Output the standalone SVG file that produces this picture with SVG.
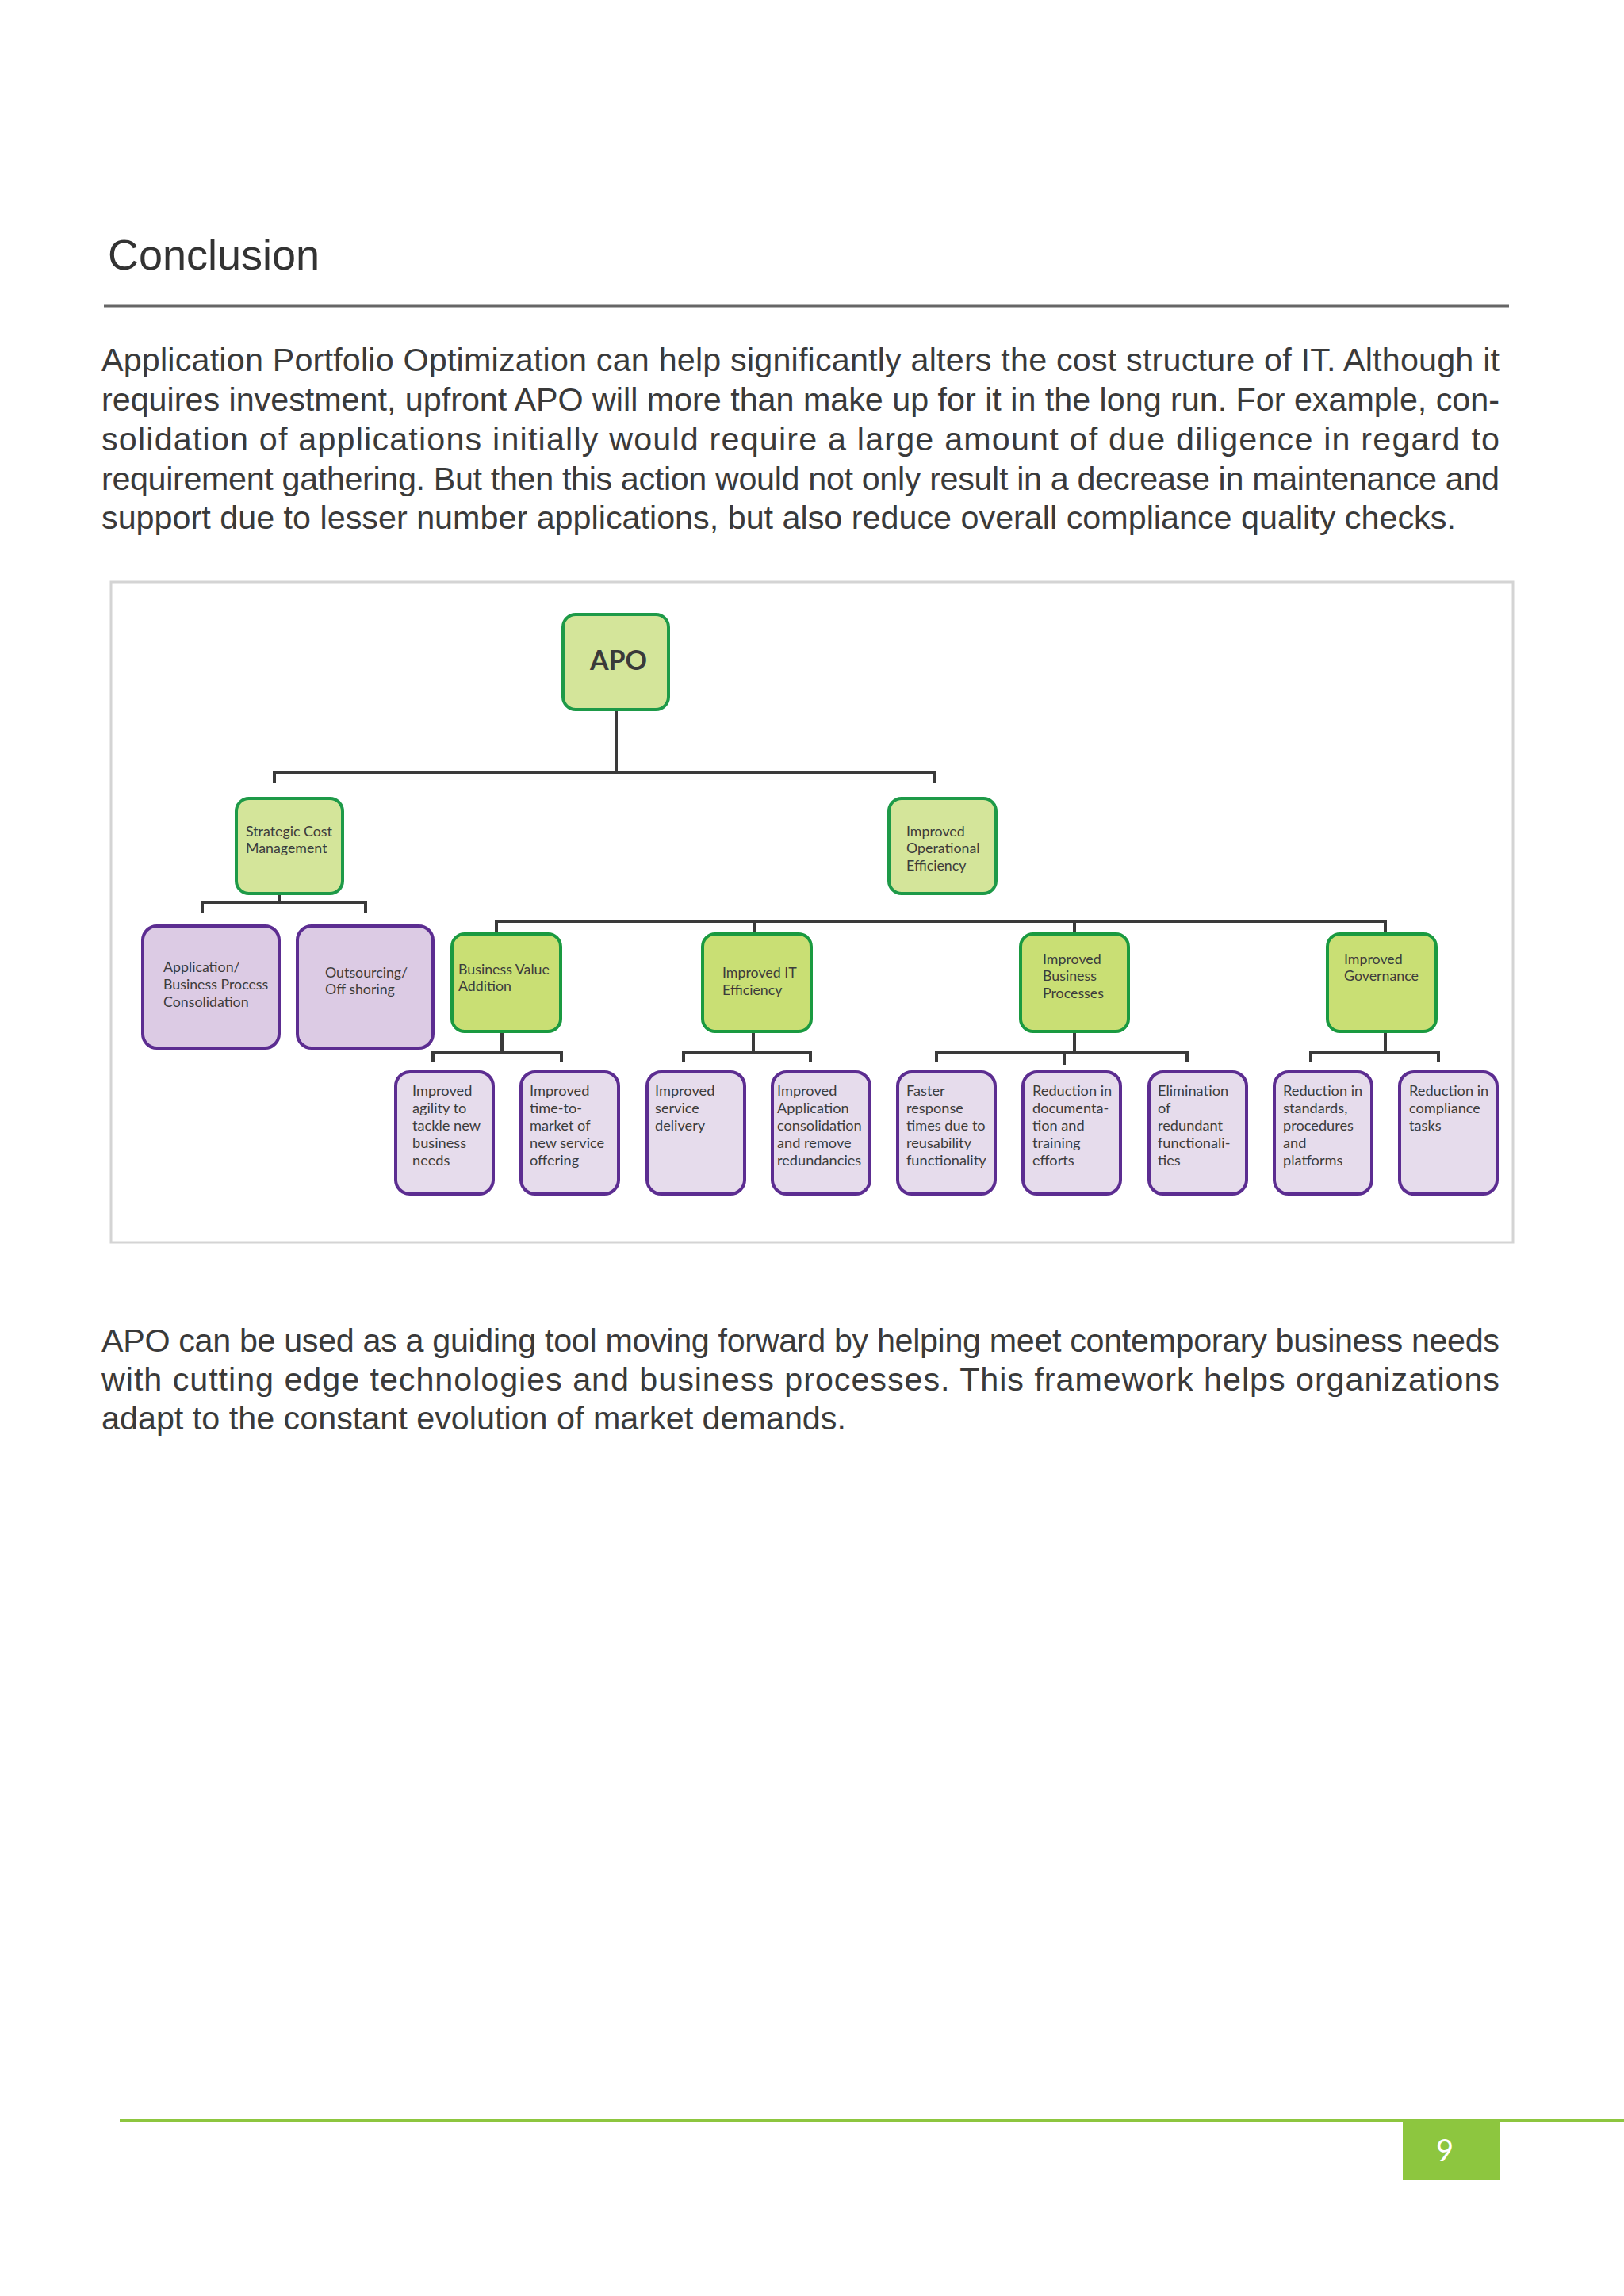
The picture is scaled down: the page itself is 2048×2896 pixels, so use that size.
<svg xmlns="http://www.w3.org/2000/svg" width="2048" height="2896" viewBox="0 0 2048 2896">
<style>
.body{font-family:"Liberation Sans",Arial,sans-serif;font-size:41.3px;fill:#3a3a3a}
.title{font-family:"Liberation Sans",Arial,sans-serif;font-size:54px;fill:#333}
.lbl{font-family:Lato,"Open Sans",sans-serif;font-size:17.8px;fill:#3c3c3c}
.leaf{font-family:Lato,"Open Sans",sans-serif;font-size:18.2px;fill:#3c3c3c}
.g1{fill:#d4e59a;stroke:#1e9a48;stroke-width:4}
.g2{fill:#c9df74;stroke:#1a9a40;stroke-width:4}
.p1{fill:#dccbe4;stroke:#5c2d91;stroke-width:4}
.p2{fill:#e6dcec;stroke:#5c2d91;stroke-width:4}
.conn{fill:none;stroke:#3a3a3a;stroke-width:4}
</style>
<rect x="0" y="0" width="2048" height="2896" fill="#ffffff"/>

<text class="title" x="136" y="340">Conclusion</text>
<line x1="131" y1="386" x2="1903" y2="386" stroke="#666" stroke-width="3"/>

<g id="para1">
<text class="body" x="128" y="468" textLength="1763" lengthAdjust="spacing">Application Portfolio Optimization can help significantly alters the cost structure of IT. Although it</text>
<text class="body" x="128" y="518" textLength="1763" lengthAdjust="spacing">requires investment, upfront APO will more than make up for it in the long run. For example, con-</text>
<text class="body" x="128" y="568" textLength="1763" lengthAdjust="spacing">solidation of applications initially would require a large amount of due diligence in regard to</text>
<text class="body" x="128" y="618" textLength="1763" lengthAdjust="spacing">requirement gathering. But then this action would not only result in a decrease in maintenance and</text>
<text class="body" x="128" y="667">support due to lesser number applications, but also reduce overall compliance quality checks.</text>
</g>

<rect id="frame" x="140" y="734" width="1768" height="833" fill="#ffffff" stroke="#d4d4d4" stroke-width="3"/>

<g id="connectors">
<path class="conn" d="M777 895 V974 M346 988 V974 H1178 V988"/>
<path class="conn" d="M352 1127 V1138 M255 1151 V1138 H461 V1151"/>
<path class="conn" d="M626 1176 V1162 H1747 V1176 M952 1162 V1178 M1355 1162 V1178"/>
<path class="conn" d="M633 1301 V1328 M546 1340 V1328 H708 V1340"/>
<path class="conn" d="M950 1301 V1328 M862 1340 V1328 H1022 V1340"/>
<path class="conn" d="M1355 1301 V1328 M1181 1340 V1328 H1497 V1340 M1342 1328 V1343"/>
<path class="conn" d="M1747 1301 V1328 M1653 1340 V1328 H1814 V1340"/>
</g>

<g id="apo">
<rect class="g1" x="710" y="775" width="133" height="120" rx="16"/>
<text x="780" y="845" text-anchor="middle" font-family="Lato,'Open Sans',sans-serif" font-weight="bold" font-size="34" fill="#3a3a3a">APO</text>
</g>

<g id="scm">
<rect class="g1" x="298" y="1007" width="134" height="120" rx="16"/>
<text class="lbl" x="310" y="1055">Strategic Cost</text>
<text class="lbl" x="310" y="1076">Management</text>
</g>

<g id="ioe">
<rect class="g1" x="1121" y="1007" width="135" height="120" rx="16"/>
<text class="lbl" x="1143" y="1055">Improved</text>
<text class="lbl" x="1143" y="1076">Operational</text>
<text class="lbl" x="1143" y="1098">Efficiency</text>
</g>

<g id="abpc">
<rect class="p1" x="180" y="1168" width="172" height="154" rx="18"/>
<text class="lbl" x="206" y="1226">Application/</text>
<text class="lbl" x="206" y="1248">Business Process</text>
<text class="lbl" x="206" y="1270">Consolidation</text>
</g>

<g id="outsourcing">
<rect class="p1" x="375" y="1168" width="171" height="154" rx="18"/>
<text class="lbl" x="410" y="1233">Outsourcing/</text>
<text class="lbl" x="410" y="1254">Off shoring</text>
</g>

<g id="bva">
<rect class="g2" x="570" y="1178" width="137" height="123" rx="16"/>
<text class="lbl" x="578" y="1229">Business Value</text>
<text class="lbl" x="578" y="1250">Addition</text>
</g>

<g id="ite">
<rect class="g2" x="886" y="1178" width="137" height="123" rx="16"/>
<text class="lbl" x="911" y="1233">Improved IT</text>
<text class="lbl" x="911" y="1255">Efficiency</text>
</g>

<g id="ibp">
<rect class="g2" x="1287" y="1178" width="136" height="123" rx="16"/>
<text class="lbl" x="1315" y="1216">Improved</text>
<text class="lbl" x="1315" y="1237">Business</text>
<text class="lbl" x="1315" y="1259">Processes</text>
</g>

<g id="igov">
<rect class="g2" x="1674" y="1178" width="137" height="123" rx="16"/>
<text class="lbl" x="1695" y="1216">Improved</text>
<text class="lbl" x="1695" y="1237">Governance</text>
</g>

<g id="leaf1">
<rect class="p2" x="499" y="1352" width="123" height="154" rx="18"/>
<text class="leaf" x="520" y="1382">Improved</text>
<text class="leaf" x="520" y="1404">agility to</text>
<text class="leaf" x="520" y="1426">tackle new</text>
<text class="leaf" x="520" y="1448">business</text>
<text class="leaf" x="520" y="1470">needs</text>
</g>

<g id="leaf2">
<rect class="p2" x="657" y="1352" width="123" height="154" rx="18"/>
<text class="leaf" x="668" y="1382">Improved</text>
<text class="leaf" x="668" y="1404">time-to-</text>
<text class="leaf" x="668" y="1426">market of</text>
<text class="leaf" x="668" y="1448">new service</text>
<text class="leaf" x="668" y="1470">offering</text>
</g>

<g id="leaf3">
<rect class="p2" x="816" y="1352" width="123" height="154" rx="18"/>
<text class="leaf" x="826" y="1382">Improved</text>
<text class="leaf" x="826" y="1404">service</text>
<text class="leaf" x="826" y="1426">delivery</text>
</g>

<g id="leaf4">
<rect class="p2" x="974" y="1352" width="123" height="154" rx="18"/>
<text class="leaf" x="980" y="1382">Improved</text>
<text class="leaf" x="980" y="1404">Application</text>
<text class="leaf" x="980" y="1426">consolidation</text>
<text class="leaf" x="980" y="1448">and remove</text>
<text class="leaf" x="980" y="1470">redundancies</text>
</g>

<g id="leaf5">
<rect class="p2" x="1132" y="1352" width="123" height="154" rx="18"/>
<text class="leaf" x="1143" y="1382">Faster</text>
<text class="leaf" x="1143" y="1404">response</text>
<text class="leaf" x="1143" y="1426">times due to</text>
<text class="leaf" x="1143" y="1448">reusability</text>
<text class="leaf" x="1143" y="1470">functionality</text>
</g>

<g id="leaf6">
<rect class="p2" x="1290" y="1352" width="123" height="154" rx="18"/>
<text class="leaf" x="1302" y="1382">Reduction in</text>
<text class="leaf" x="1302" y="1404">documenta-</text>
<text class="leaf" x="1302" y="1426">tion and</text>
<text class="leaf" x="1302" y="1448">training</text>
<text class="leaf" x="1302" y="1470">efforts</text>
</g>

<g id="leaf7">
<rect class="p2" x="1449" y="1352" width="123" height="154" rx="18"/>
<text class="leaf" x="1460" y="1382">Elimination</text>
<text class="leaf" x="1460" y="1404">of</text>
<text class="leaf" x="1460" y="1426">redundant</text>
<text class="leaf" x="1460" y="1448">functionali-</text>
<text class="leaf" x="1460" y="1470">ties</text>
</g>

<g id="leaf8">
<rect class="p2" x="1607" y="1352" width="123" height="154" rx="18"/>
<text class="leaf" x="1618" y="1382">Reduction in</text>
<text class="leaf" x="1618" y="1404">standards,</text>
<text class="leaf" x="1618" y="1426">procedures</text>
<text class="leaf" x="1618" y="1448">and</text>
<text class="leaf" x="1618" y="1470">platforms</text>
</g>

<g id="leaf9">
<rect class="p2" x="1765" y="1352" width="123" height="154" rx="18"/>
<text class="leaf" x="1777" y="1382">Reduction in</text>
<text class="leaf" x="1777" y="1404">compliance</text>
<text class="leaf" x="1777" y="1426">tasks</text>
</g>

<g id="para2">
<text class="body" x="128" y="1705" textLength="1763" lengthAdjust="spacing">APO can be used as a guiding tool moving forward by helping meet contemporary business needs</text>
<text class="body" x="128" y="1754" textLength="1763" lengthAdjust="spacing">with cutting edge technologies and business processes. This framework helps organizations</text>
<text class="body" x="128" y="1803">adapt to the constant evolution of market demands.</text>
</g>

<g id="footer">
<line x1="151" y1="2675" x2="2048" y2="2675" stroke="#8dc63f" stroke-width="4"/>
<rect x="1769" y="2675" width="122" height="75" fill="#8dc63f"/>
<text x="1822" y="2726" text-anchor="middle" font-family="Lato,'Open Sans',sans-serif" font-size="38" fill="#ffffff">9</text>
</g>
</svg>
